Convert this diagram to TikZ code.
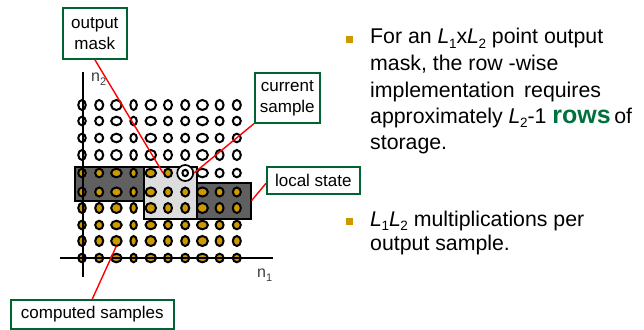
\documentclass[tikz,border=0pt]{standalone}
\usepackage{fontspec}
\setmainfont{Liberation Sans}
\definecolor{gold}{RGB}{204,153,0}
\definecolor{dgreen}{RGB}{0,100,50}
\definecolor{rowsgreen}{RGB}{0,112,60}
\definecolor{dgray}{RGB}{96,96,96}
\definecolor{lgray}{RGB}{221,221,221}
\definecolor{axgray}{RGB}{60,60,60}
\newcommand\Lsub[1]{\textit{L}\kern-0.5pt\raisebox{-4.5pt}{\fontsize{13.5}{13.5}\selectfont #1}}
\newcommand\nsub[1]{n\raisebox{-3.5pt}{\fontsize{11}{11}\selectfont #1}}
\begin{document}
\begin{tikzpicture}[x=1pt,y=-1pt,
  lab/.style={draw=dgreen, line width=1.6pt, fill=white, inner sep=0pt, align=center,
    font=\fontsize{17}{21}\selectfont, anchor=north west},
  box/.style={draw=black, line width=1.5pt, inner sep=0pt, anchor=north west},
  dotF/.style={draw=black, line width=2pt, fill=gold},
  dotE/.style={draw=black, line width=2pt, fill=white},
  curout/.style={circle, draw=black, line width=1.7pt, fill=white, inner sep=0pt, minimum size=16pt},
  redline/.style={draw=red, line width=1.4pt},
  axis/.style={draw=black, line width=1.6pt},
  axlab/.style={font=\fontsize{16}{16}\selectfont, text=axgray, inner sep=0pt, anchor=west},
  txt/.style={font=\fontsize{21.3}{24}\selectfont, inner sep=0pt, anchor=base west},
  bullet/.style={fill=gold, minimum size=7pt, inner sep=0pt}
]
\useasboundingbox (0,0) rectangle (644,329);

% storage boxes
\node[box, fill=dgray, minimum width=69pt, minimum height=34pt] (lbox) at (74,166) {};
\node[box, fill=dgray, minimum width=54pt, minimum height=36pt] (rbox) at (196,182) {};
\node[box, fill=lgray, minimum width=53pt, minimum height=52pt] (mbox) at (143,166) {};

% sample grid
\foreach \i in {0,...,9}{
  \foreach \j in {0,...,9}{
    \pgfmathsetmacro\xx{82+17.2*\i}
    \pgfmathsetmacro\yy{{258,241,225,208,192,173,155,138,121,105}[\j]}
    \pgfmathsetmacro\wo{{9.5,10,12.5,8.5,12.5,10,10,13,10,10}[\i]}
    \pgfmathsetmacro\ho{{10.5,12,10.5,12,11,10.5,12,10.5,10.5,12}[\j]}
    \pgfmathsetmacro\rx{(\wo-2)/2}
    \pgfmathsetmacro\ry{(\ho-2)/2}
    \pgfmathtruncatemacro\filled{(\j<5)||((\j==5)&&(\i<6))}
    \pgfmathtruncatemacro\cur{(\j==5)&&(\i==6)}
    \coordinate (d-\i-\j) at (\xx,\yy);
    \ifnum\cur=1
      \node[curout] (cur) at (d-\i-\j) {};
      \path[dotE] (d-\i-\j) ellipse [x radius=2.8pt, y radius=3.2pt];
    \else
      \ifnum\filled=1
        \path[dotF] (d-\i-\j) ellipse [x radius=\rx pt, y radius=\ry pt];
      \else
        \path[dotE] (d-\i-\j) ellipse [x radius=\rx pt, y radius=\ry pt];
      \fi
    \fi
  }
}

% axes
\coordinate (yb) at (83,277);
\coordinate (yt) at (83,72);
\coordinate (xl) at (60,258);
\coordinate (xr) at (273,258);
\draw[axis] (yb) -- (yt);
\draw[axis] (xl) -- (xr);
\node[axlab] (n2) at (91,79) {\nsub{2}};
\node[axlab] (n1) at (257,275) {\nsub{1}};

% labels
\node[lab, minimum width=64pt, minimum height=51pt] (om) at (62,7) {output\\mask};
\node[lab, minimum width=65pt, minimum height=50pt] (cs) at (254,72) {current\\sample};
\node[lab, minimum width=93pt, minimum height=27pt] (ls) at (266,166) {local state};
\node[lab, minimum width=163pt, minimum height=29pt] (cm) at (10,299) {computed samples};

% connectors
\draw[redline] (om.south) -- ([xshift=-5pt]d-5-5);
\draw[redline] (cs.south west) -- (cur.east);
\draw[redline] ([yshift=-3pt]ls.west) -- (rbox.east);
\draw[redline] (cm.north) -- ([yshift=-5pt]d-2-1);

% right text
\node[bullet] (b1) at (349.5,40) {};
\node[bullet] (b2) at (349.5,221) {};
\node[txt] (t1) at (370,44) {For an \Lsub{1}x\Lsub{2} point output};
\node[txt] (t2) at (370,70.5) {mask, the row -wise};
\node[txt] (t3) at (370,97) {implementation\, requires};
\node[txt] (t4) at (370,123) {approximately \Lsub{2}-1 {\fontsize{25}{25}\selectfont\bfseries\color{rowsgreen}rows}\,of};
\node[txt] (t5) at (370,149) {storage.};
\node[txt] (t6) at (370,226) {\Lsub{1}\Lsub{2} multiplications per};
\node[txt] (t7) at (370,250) {output sample.};
\end{tikzpicture}
\end{document}
